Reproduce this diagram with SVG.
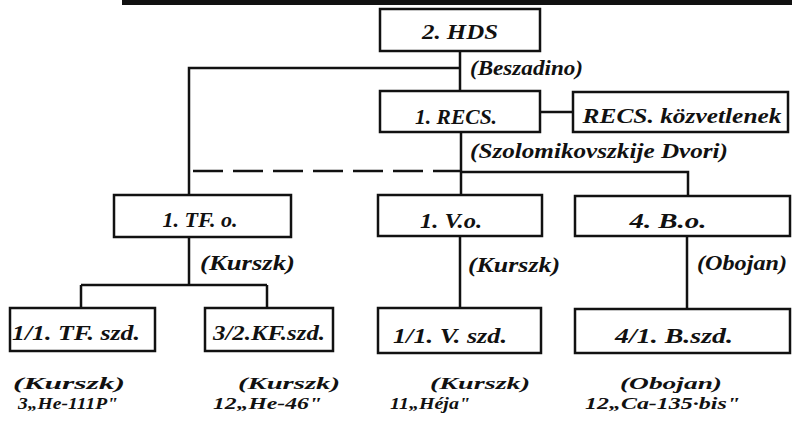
<svg xmlns="http://www.w3.org/2000/svg" width="792" height="421" viewBox="0 0 792 421">
<style>
.box{fill:#fff;stroke:#111;stroke-width:2.5}
.ln{fill:none;stroke:#111;stroke-width:2.5}
.dash{fill:none;stroke:#111;stroke-width:2.5;stroke-dasharray:30 10}
.t{font-family:"Liberation Serif","DejaVu Serif",serif;font-style:italic;font-weight:bold;fill:#111}
.lb{font-size:22px;text-anchor:middle}
.loc{font-size:20px}
.bot{font-size:17px}
</style>
<rect x="0" y="0" width="792" height="421" fill="#fff"/>
<rect x="122" y="0" width="670" height="5" fill="#111"/>
<g id="connectors">
<path class="ln" d="M460 51V91M460 68H189V195M540 112H573M461 132V195M461 172H688V196M189 237V285M81 285H267M81 285V308M267 285V308M460 236V308M687 236V309"/>
<path class="dash" d="M193 171H461"/>
</g>
<g id="hds"><rect class="box" x="380" y="9" width="160" height="42"/><text class="t lb" x="460" y="39" textLength="76" lengthAdjust="spacingAndGlyphs">2. HDS</text></g>
<text class="t loc" x="470" y="75" textLength="113" lengthAdjust="spacingAndGlyphs">(Beszadino)</text>
<g id="recs"><rect class="box" x="380" y="91" width="160" height="41"/><text class="t lb" x="456" y="124" textLength="82" lengthAdjust="spacingAndGlyphs">1. RECS.</text></g>
<g id="kozvetlenek"><rect class="box" x="573" y="92" width="215" height="40"/><text class="t lb" x="682" y="123" textLength="199" lengthAdjust="spacingAndGlyphs">RECS. közvetlenek</text></g>
<text class="t loc" x="470" y="158" textLength="258" lengthAdjust="spacingAndGlyphs">(Szolomikovszkije Dvori)</text>
<g id="tfo"><rect class="box" x="114" y="195" width="177" height="42"/><text class="t lb" x="200" y="227" textLength="75" lengthAdjust="spacingAndGlyphs">1. TF. o.</text></g>
<g id="vo"><rect class="box" x="378" y="195" width="164" height="41"/><text class="t lb" x="451" y="228" textLength="62" lengthAdjust="spacingAndGlyphs">1. V.o.</text></g>
<g id="bo"><rect class="box" x="575" y="196" width="215" height="40"/><text class="t lb" x="668" y="228" textLength="77" lengthAdjust="spacingAndGlyphs">4. B.o.</text></g>
<text class="t loc" x="200" y="270" textLength="95" lengthAdjust="spacingAndGlyphs">(Kurszk)</text>
<text class="t loc" x="468" y="272" textLength="92" lengthAdjust="spacingAndGlyphs">(Kurszk)</text>
<text class="t loc" x="697" y="270" textLength="90" lengthAdjust="spacingAndGlyphs">(Obojan)</text>
<g id="tfszd"><rect class="box" x="10" y="308" width="145" height="43"/><text class="t lb" x="76" y="340" textLength="128" lengthAdjust="spacingAndGlyphs">1/1. TF. szd.</text></g>
<g id="kfszd"><rect class="box" x="205" y="308" width="128" height="43"/><text class="t lb" x="269" y="340" textLength="112" lengthAdjust="spacingAndGlyphs">3/2.KF.szd.</text></g>
<g id="vszd"><rect class="box" x="378" y="308" width="163" height="45"/><text class="t lb" x="450" y="343" textLength="114" lengthAdjust="spacingAndGlyphs">1/1. V. szd.</text></g>
<g id="bszd"><rect class="box" x="575" y="309" width="215" height="44"/><text class="t lb" x="674" y="343" textLength="118" lengthAdjust="spacingAndGlyphs">4/1. B.szd.</text></g>
<g class="t bot">
<text x="13" y="389" textLength="112" lengthAdjust="spacingAndGlyphs">(Kurszk)</text>
<text x="18" y="409" textLength="100" lengthAdjust="spacingAndGlyphs">3„He-111P"</text>
<text x="238" y="389" textLength="102" lengthAdjust="spacingAndGlyphs">(Kurszk)</text>
<text x="213" y="409" textLength="109" lengthAdjust="spacingAndGlyphs">12„He-46"</text>
<text x="430" y="389" textLength="100" lengthAdjust="spacingAndGlyphs">(Kurszk)</text>
<text x="390" y="409" textLength="80" lengthAdjust="spacingAndGlyphs">11„Héja"</text>
<text x="620" y="389" textLength="102" lengthAdjust="spacingAndGlyphs">(Obojan)</text>
<text x="585" y="409" textLength="155" lengthAdjust="spacingAndGlyphs">12„Ca-135·bis"</text>
</g>
</svg>
